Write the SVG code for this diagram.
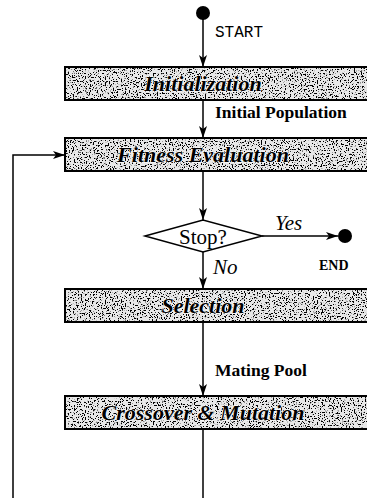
<svg xmlns="http://www.w3.org/2000/svg" width="367" height="498" viewBox="0 0 367 498">
  <defs>
    <filter id="grain" x="0" y="0" width="100%" height="100%">
      <feTurbulence type="fractalNoise" baseFrequency="0.75" numOctaves="3" seed="7" result="n"/>
      <feColorMatrix in="n" type="matrix" values="0 0 0 0 0  0 0 0 0 0  0 0 0 0 0  0 0 0 -14 6.1" result="dots"/>
      <feFlood flood-color="#e8e8e8" result="bg"/>
      <feComposite in="dots" in2="bg" operator="over"/>
    </filter>
    <marker id="arrow" viewBox="0 0 12 8" refX="12" refY="4" markerWidth="12" markerHeight="8" markerUnits="userSpaceOnUse" orient="auto">
      <path d="M0,0 L12,4 L0,8 L3,4 Z" fill="#000"/>
    </marker>
  </defs>
  <style>
    .box { stroke: #000; stroke-width: 2; fill: none; }
    .shade { filter: url(#grain); }
    .title { font-family: "Liberation Serif", serif; font-style: italic; font-weight: bold; font-size: 22px; fill: #000; text-anchor: middle; stroke: #fff; stroke-width: 1.2; paint-order: stroke; }
    .lbl { font-family: "Liberation Serif", serif; font-weight: bold; font-size: 17.5px; fill: #000; }
    .it { font-family: "Liberation Serif", serif; font-style: italic; font-size: 21px; fill: #000; }
    .edge { stroke: #000; stroke-width: 1.5; fill: none; }
  </style>

  <rect width="367" height="498" fill="#fff"/>

  <!-- flow lines -->
  <g id="connectors">
    <line class="edge" x1="203" y1="18" x2="203" y2="67" marker-end="url(#arrow)"/>
    <line class="edge" x1="203" y1="100" x2="203" y2="138" marker-end="url(#arrow)"/>
    <line class="edge" x1="203" y1="171" x2="203" y2="220" marker-end="url(#arrow)"/>
    <line class="edge" x1="203" y1="252" x2="203" y2="289" marker-end="url(#arrow)"/>
    <line class="edge" x1="203" y1="322" x2="203" y2="396" marker-end="url(#arrow)"/>
    <line class="edge" x1="203" y1="429" x2="203" y2="498"/>
    <line class="edge" x1="262" y1="236" x2="338" y2="236" marker-end="url(#arrow)"/>
    <polyline class="edge" points="13,498 13,155 65,155" marker-end="url(#arrow)"/>
    <text class="lbl" x="215" y="118">Initial Population</text>
    <text class="lbl" x="215" y="376">Mating Pool</text>
    <text class="it" x="275" y="230">Yes</text>
    <text class="it" x="213" y="274">No</text>
  </g>

  <g id="start">
    <circle cx="203" cy="13" r="7" fill="#000"/>
    <text x="215" y="37" font-family="Liberation Mono, monospace" font-size="16" fill="#000">START</text>
  </g>

  <g id="initialization">
    <rect class="shade" x="65" y="67" width="305" height="33"/>
    <rect class="box" x="65" y="67" width="305" height="33"/>
    <text class="title" x="203" y="91">Initialization</text>
  </g>

  <g id="fitness">
    <rect class="shade" x="65" y="138" width="305" height="33"/>
    <rect class="box" x="65" y="138" width="305" height="33"/>
    <text class="title" x="203" y="162">Fitness Evaluation</text>
  </g>

  <g id="stop">
    <polygon points="145,236 203,220 262,236 203,252" fill="#fff" stroke="#000" stroke-width="1.5"/>
    <text x="203" y="244" font-family="Liberation Serif, serif" font-size="21" fill="#000" text-anchor="middle">Stop?</text>
  </g>

  <g id="end">
    <circle cx="345" cy="236" r="7" fill="#000"/>
    <text x="319" y="270" font-family="Liberation Serif, serif" font-weight="bold" font-size="14" fill="#000">END</text>
  </g>

  <g id="selection">
    <rect class="shade" x="65" y="289" width="305" height="33"/>
    <rect class="box" x="65" y="289" width="305" height="33"/>
    <text class="title" x="203" y="313">Selection</text>
  </g>

  <g id="crossover">
    <rect class="shade" x="65" y="396" width="305" height="33"/>
    <rect class="box" x="65" y="396" width="305" height="33"/>
    <text class="title" x="203" y="420">Crossover &amp; Mutation</text>
  </g>
</svg>
